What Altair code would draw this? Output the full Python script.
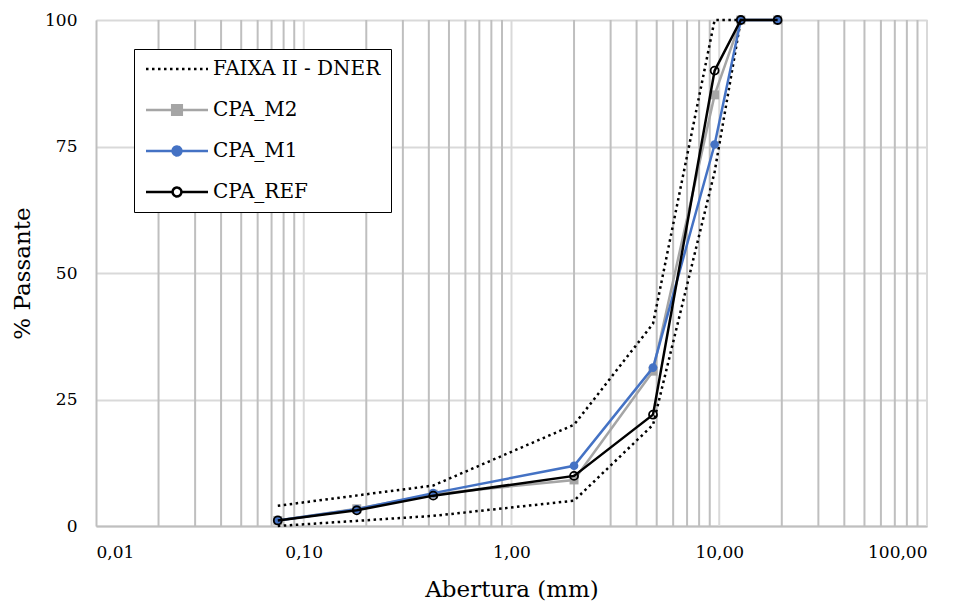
import altair as alt
import pandas as pd

# ---- data ----
sieves = [19.1, 12.7, 9.5, 4.8, 2.0, 0.42, 0.18, 0.075]
cpa_ref = [100, 100, 90.0, 22.0, 9.9, 6.0, 3.1, 1.1]
cpa_m1 = [100, 100, 75.4, 31.3, 11.9, 6.5, 3.3, 1.1]
cpa_m2 = [100, 100, 85.2, 30.6, 9.1, 6.3, 3.4, 1.1]

faixa_sieves = [12.7, 9.5, 4.8, 2.0, 0.42, 0.075]
faixa_upper = [100, 100, 40, 20, 8, 4]
faixa_lower = [100, 70, 20, 5, 2, 0]

series_names = ["FAIXA II - DNER", "CPA_M2", "CPA_M1", "CPA_REF"]
series_colors = ["#000000", "#a5a5a5", "#4472c4", "#000000"]

x_ticks = [0.01, 0.1, 1, 10, 100]
y_ticks = [0, 25, 50, 75, 100]
minor_grid = [d * m for d in (0.01, 0.1, 1, 10) for m in range(2, 10)]
major_grid = [0.1, 1, 10, 100]

FONT = "DejaVu Serif"

# ---- tables ----
faixa_df = pd.concat([
    pd.DataFrame({"x": faixa_sieves, "y": faixa_upper, "part": "sup"}),
    pd.DataFrame({"x": faixa_sieves, "y": faixa_lower, "part": "inf"}),
])
m2_df = pd.DataFrame({"x": sieves, "y": cpa_m2})
m1_df = pd.DataFrame({"x": sieves, "y": cpa_m1})
ref_df = pd.DataFrame({"x": sieves, "y": cpa_ref})
minor_df = pd.DataFrame({"x": minor_grid})
major_df = pd.DataFrame({"x": major_grid})
legend_df = pd.DataFrame({"series": series_names})

xscale = alt.Scale(type="log", domain=[0.01, 100], nice=False)
yscale = alt.Scale(domain=[0, 100], nice=False)

xaxis = alt.Axis(
    values=x_ticks, grid=False, ticks=False, tickSize=0,
    labelExpr="replace(format(datum.value, '.2f'), '.', ',')",
    labelFont=FONT, labelFontSize=17, labelColor="#000000", labelPadding=18,
    domainColor="#bfbfbf", domainWidth=2,
    title="Abertura (mm)", titleFont=FONT, titleFontSize=23,
    titleFontWeight="normal", titleColor="#000000", titlePadding=18,
)
yaxis = alt.Axis(
    values=y_ticks, grid=True, gridColor="#d9d9d9", gridWidth=2,
    ticks=False, tickSize=0,
    labelFont=FONT, labelFontSize=17, labelColor="#000000", labelPadding=19,
    domainColor="#bfbfbf", domainWidth=2,
    title="% Passante", titleFont=FONT, titleFontSize=23,
    titleFontWeight="normal", titleColor="#000000", titlePadding=10,
)

X = alt.X("x:Q", scale=xscale, axis=xaxis)
Y = alt.Y("y:Q", scale=yscale, axis=yaxis)

minor_rules = alt.Chart(minor_df).mark_rule(color="#bfbfbf", strokeWidth=2).encode(
    x=alt.X("x:Q", scale=xscale, axis=xaxis)
)
major_rules = alt.Chart(major_df).mark_rule(color="#d9d9d9", strokeWidth=2).encode(
    x=alt.X("x:Q", scale=xscale, axis=xaxis)
)

faixa = alt.Chart(faixa_df).mark_line(
    color="#000000", strokeWidth=2.5, strokeDash=[2.5, 3.5]
).encode(x=X, y=Y, detail="part:N")

m2_line = alt.Chart(m2_df).mark_line(color="#a5a5a5", strokeWidth=2.5).encode(x=X, y=Y)
m2_pts = alt.Chart(m2_df).mark_point(
    shape="square", filled=True, color="#a5a5a5", size=80, opacity=1
).encode(x=X, y=Y)

m1_line = alt.Chart(m1_df).mark_line(color="#4472c4", strokeWidth=2.5).encode(x=X, y=Y)
m1_pts = alt.Chart(m1_df).mark_point(
    shape="circle", filled=True, color="#4472c4", size=75, opacity=1
).encode(x=X, y=Y)

ref_line = alt.Chart(ref_df).mark_line(color="#000000", strokeWidth=2.5).encode(x=X, y=Y)
ref_pts = alt.Chart(ref_df).mark_point(
    shape="circle", filled=False, stroke="#000000", strokeWidth=1.8, size=64, opacity=1
).encode(x=X, y=Y)

# legend symbols: line + marker paths (unit = 8 px, symbol box 16 px)
c = 2.875   # marker centre in path units
L0, L1 = -1.0, 6.75
r = 0.55
sq = 0.6
shape_paths = [
    f"M{L0},0L{L1},0",
    f"M{L0},0L{L1},0M{c-sq},-{sq}L{c+sq},-{sq}L{c+sq},{sq}L{c-sq},{sq}Z",
    f"M{L0},0L{L1},0M{c+r},0A{r},{r} 0 1,1 {c-r},0A{r},{r} 0 1,1 {c+r},0Z",
    f"M{L0},0L{c-r},0M{c+r},0L{L1},0M{c+r},0A{r},{r} 0 1,1 {c-r},0A{r},{r} 0 1,1 {c+r},0Z",
]
fills = ["transparent", "#a5a5a5", "#4472c4", "#ffffff"]
dashes = [[2.5, 3.5], [1, 0], [1, 0], [1, 0]]

legend = alt.Legend(
    title=None, orient="none", legendX=38, legendY=29,
    labelFont=FONT, labelFontSize=20, labelColor="#000000", labelLimit=400,
    symbolSize=256, symbolStrokeWidth=2.5, symbolOpacity=1, labelOffset=49,
    rowPadding=21, strokeColor="#000000", padding=10, fillColor="#ffffff",
)
legend_layer = alt.Chart(legend_df).mark_point(opacity=0).encode(
    shape=alt.Shape("series:N", scale=alt.Scale(domain=series_names, range=shape_paths), legend=legend),
    stroke=alt.Stroke("series:N", scale=alt.Scale(domain=series_names, range=series_colors), legend=legend),
    fill=alt.Fill("series:N", scale=alt.Scale(domain=series_names, range=fills), legend=legend),
    strokeDash=alt.StrokeDash("series:N", scale=alt.Scale(domain=series_names, range=dashes), legend=legend),
)

chart = alt.layer(
    minor_rules, major_rules, faixa, m2_line, m2_pts, m1_line, m1_pts, ref_line, ref_pts, legend_layer
).properties(
    width=831, height=506,
    autosize=alt.AutoSizeParams(type="none"),
    padding={"left": 96, "top": 20, "right": 35, "bottom": 78},
).configure_view(stroke=None).configure(background="#ffffff")

chart.save("out.html", embed_options={"renderer": "svg", "actions": False})
